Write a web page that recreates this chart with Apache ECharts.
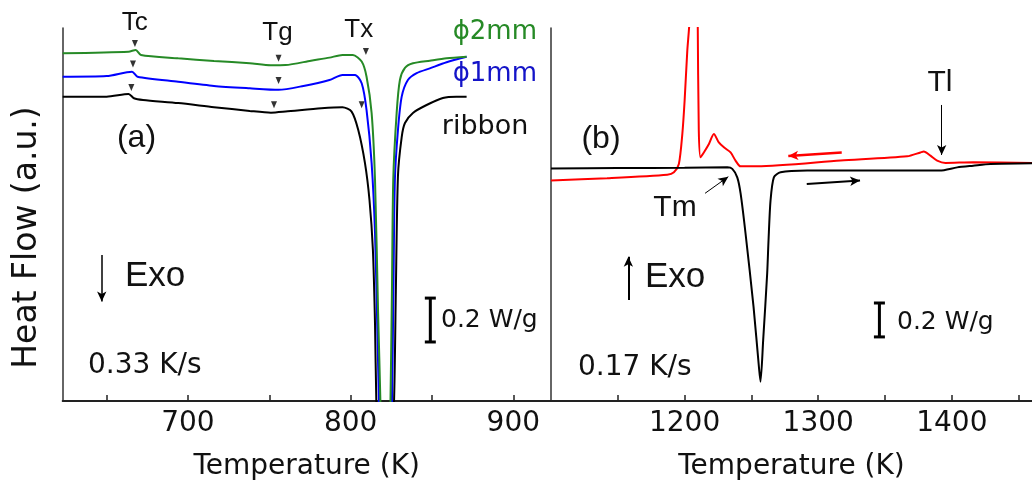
<!DOCTYPE html>
<html>
<head>
<meta charset="utf-8">
<script src="https://cdn.jsdelivr.net/npm/echarts@6/dist/echarts.min.js"></script>
<style>
html,body{margin:0;padding:0;background:#ffffff;}
#chart{width:1032px;height:490px;}
</style>
</head>
<body>
<div id="chart"></div>
<script>
/**
 * =====================================================
 * DSC traces  (a) heating 0.33 K/s   (b) heating / cooling 0.17 K/s
 * values : [temperature K , heat flow W/g + offset]
 * =====================================================
 */

// panel (a)
const ribbonCurve=[
    [623,1.387],[650,1.387],[663.5,1.399],[666.8,1.380],[672.4,1.372],[694,1.358],
    [716,1.339],[738,1.322],[751,1.314],[760,1.319],[782,1.334],[795,1.339],
    [800.6,1.319],[804.7,1.235],[808.8,1.085],[811.6,0.916],[813.7,0.688],[815,0.35],
    [815.8,0],[821,-1.2],[826.7,0],[827.8,0.5],[829.1,1.026],[831.4,1.203],
    [833.4,1.267],[838.3,1.313],[846.7,1.349],[856.7,1.381],[865,1.387],[871.3,1.387]
];

const phi1Curve=[
    [623,1.478],[650,1.481],[665.6,1.501],[669,1.478],[694,1.455],[716,1.436],
    [738,1.425],[755.7,1.418],[771,1.436],[787,1.463],[795,1.486],[802.7,1.486],
    [806.8,1.448],[809.8,1.326],[812.9,1.085],[815,0.766],[816.5,0.3],[817.4,0],
    [821.5,-1.2],[825.4,0],[826.3,0.5],[827.2,1.007],[829.1,1.235],[831.4,1.387],
    [835.2,1.463],[840.6,1.494],[848.7,1.516],[859,1.544],[871.3,1.569]
];

const phi2Curve=[
    [623,1.585],[663.5,1.592],[667.9,1.600],[671.1,1.577],[694,1.562],[716,1.550],
    [738,1.539],[751,1.530],[760,1.531],[775.6,1.551],[787,1.565],[795,1.577],
    [801.4,1.577],[806.8,1.547],[809.8,1.478],[812.9,1.313],[815,1.007],[816.9,0.4],
    [818.3,0],[821.5,-1.2],[824.5,0],[825.4,0.5],[826.2,1.007],[828.3,1.313],
    [830.3,1.463],[833.4,1.518],[838.3,1.539],[848.7,1.551],[859,1.562],[871.3,1.569]
];

// Tc, Tg, Tx marks (green, blue, black)
const transitionMarks=[
    [667.4,1.629],[666.2,1.536],[665.2,1.429],
    [755.7,1.562],[755.7,1.461],[752.9,1.350],
    [809.4,1.593],[806.8,1.350]
];

const scaleBarA=[[849,0.269],[849,0.469]];

// panel (b)
const heatingCurve=[
    [1100,1.372],[1150,1.374],[1200,1.376],[1232,1.378],[1235.7,1.369],[1239.4,1.319],
    [1241.9,1.224],[1245.6,0.988],[1251.6,0.555],[1255.6,0.202],[1256.8,0.114],
    [1258.8,0.359],[1261.8,0.753],[1262.8,0.947],[1264.3,1.182],[1266.8,1.319],
    [1271.8,1.349],[1291.7,1.359],[1341,1.359],[1391,1.359],[1404,1.378],
    [1416,1.388],[1429,1.398],[1460,1.402]
];

const coolingCurve=[
    [1100,1.300],[1142,1.314],[1187,1.335],[1192,1.349],[1195.7,1.398],[1198.3,1.576],
    [1200,1.771],[1202,2.065],[1203.7,2.25],[1206,3.2],[1208.5,3.2],[1209.8,2.25],
    [1210.6,1.6],[1211.9,1.437],[1214.4,1.466],[1218.2,1.516],[1221.9,1.575],
    [1225.6,1.525],[1229.4,1.496],[1234.4,1.466],[1238.1,1.418],[1241.9,1.384],
    [1254.4,1.384],[1316.7,1.418],[1366.6,1.443],[1376.5,1.466],[1379,1.472],
    [1384,1.447],[1389,1.418],[1395.2,1.404],[1416,1.408],[1460,1.404]
];

const scaleBarB=[[1345.8,0.378],[1345.8,0.578]];

// ticks
const tickValuesA=[650,700,750,800,850,900];
const labelValuesA=[700,800,900];
const tickValuesB=[1150,1200,1250,1300,1350,1400,1450];
const labelValuesB=[1200,1300,1400];

// arrows [from , to]
const exoArrowA=[[647,0.665],[647,0.453]];
const exoArrowB=[[1157.9,0.596],[1157.9,0.851]];
const tlArrow=[[1392.4,1.746],[1392.4,1.451]];
const tmArrow=[[1215.3,1.225],[1232.7,1.323]];
const coolArrow=[[1317.6,1.465],[1277.6,1.445]];
const heatArrow=[[1291.4,1.280],[1331.3,1.300]];

const SANS="DejaVu Sans";
const ARIAL="Liberation Sans";
const GREEN="#268a26";
const BLUE="#0000ff";

let chart=echarts.init(document.getElementById("chart"));

function xAxisOf(gridIndex,min,max,ticks,labels){
    return {
        gridIndex,
        type:"value",
        min,
        max,
        axisLine:{show:true,onZero:false,lineStyle:{color:"#222",width:2}},
        axisTick:{show:true,inside:true,length:6,customValues:ticks,lineStyle:{color:"#222",width:1.5}},
        axisLabel:{
            customValues:labels,
            formatter:v=>String(v),
            fontFamily:SANS,
            fontSize:28,
            color:"#111",
            margin:9
        },
        splitLine:{show:false},
        name:"Temperature (K)",
        nameLocation:"middle",
        nameGap:52,
        nameTextStyle:{fontFamily:SANS,fontSize:28,color:"#111"}
    };
}

function yAxisOf(gridIndex,max){
    return {
        gridIndex,
        type:"value",
        min:0,
        max,
        axisLine:{show:true,onZero:false,lineStyle:{color:"#333",width:1.5}},
        axisTick:{show:false},
        axisLabel:{show:false},
        splitLine:{show:false}
    };
}

function curve(name,data,color,axis,extra){
    return Object.assign({
        name,
        type:"line",
        xAxisIndex:axis,
        yAxisIndex:axis,
        data,
        showSymbol:false,
        smooth:0.25,
        clip:true,
        lineStyle:{color,width:2},
        itemStyle:{color},
        silent:true
    },extra||{});
}

function arrows(list,color,width){
    return {
        silent:true,
        symbol:["none","arrow"],
        symbolSize:[7,10],
        label:{show:false},
        emphasis:{disabled:true},
        lineStyle:{type:"solid",color,width},
        data:list.map(a=>[
            {coord:a[0],lineStyle:{color,width}},
            {coord:a[1]}
        ])
    };
}

function scaleBar(data,axis){
    return {
        type:"line",
        xAxisIndex:axis,
        yAxisIndex:axis,
        data,
        symbol:"rect",
        symbolSize:[11,3],
        showSymbol:true,
        lineStyle:{color:"#000",width:3},
        itemStyle:{color:"#000"},
        silent:true
    };
}

function text(t,x,y,family,size,align,color){
    return {
        type:"text",
        x,
        y,
        silent:true,
        style:{
            text:t,
            fontFamily:family,
            fontSize:size,
            fill:color||"#111",
            align:align||"center",
            verticalAlign:"middle"
        }
    };
}

chart.setOption({
    animation:false,
    backgroundColor:"#ffffff",
    grid:[
        {left:62.7,top:28,width:488,height:373},
        {left:551,top:28,right:0,height:373}
    ],
    xAxis:[
        xAxisOf(0,623,923,tickValuesA,labelValuesA),
        xAxisOf(1,1100,1460,tickValuesB,labelValuesB)
    ],
    yAxis:[
        yAxisOf(0,1.7),
        yAxisOf(1,2.2)
    ],
    series:[
        curve("ribbon",ribbonCurve,"#000",0,{markLine:arrows([exoArrowA],"#000",1.5)}),
        curve("phi1",phi1Curve,BLUE,0),
        curve("phi2",phi2Curve,GREEN,0),
        {
            type:"scatter",
            xAxisIndex:0,
            yAxisIndex:0,
            data:transitionMarks,
            symbol:"triangle",
            symbolRotate:180,
            symbolSize:[6,7],
            itemStyle:{color:"#000"},
            silent:true
        },
        scaleBar(scaleBarA,0),
        curve("cooling",coolingCurve,"#ff0000",1,{markLine:arrows([coolArrow],"#ff0000",2.5)}),
        curve("heating",heatingCurve,"#000",1,{markLine:arrows([heatArrow,exoArrowB],"#000",2)}),
        curve("marks",[],"#000",1,{markLine:arrows([tlArrow,tmArrow],"#000",1)}),
        scaleBar(scaleBarB,1)
    ],
    graphic:[
        {
            type:"text",
            x:27.5,
            y:237.5,
            rotation:Math.PI/2,
            silent:true,
            style:{text:"Heat Flow (a.u.)",fontFamily:SANS,fontSize:33,fill:"#111",align:"center",verticalAlign:"middle"}
        },
        text("(a)",136.5,138,ARIAL,32),
        text("Tc",134.8,23,ARIAL,26),
        text("Tg",277.5,33,ARIAL,26),
        text("Tx",358.8,29.5,ARIAL,26),
        text("\u03d52mm",537,32,SANS,26,"right",GREEN),
        text("\u03d51mm",537,74,SANS,26,"right","#1414c8"),
        text("ribbon",528.3,127,SANS,27,"right"),
        text("Exo",125,276,ARIAL,35,"left"),
        text("0.33 K/s",88,366,SANS,28,"left"),
        text("0.2 W/g",441,320,SANS,25,"left"),
        text("(b)",601,139,ARIAL,32),
        text("Tm",675,208,ARIAL,30),
        text("Tl",940,83,ARIAL,30),
        text("Exo",645,277,ARIAL,35,"left"),
        text("0.17 K/s",578,368,SANS,28,"left"),
        text("0.2 W/g",897,322,SANS,25,"left")
    ]
});

window.addEventListener("resize",()=>{
    chart.resize();
});
</script>
</body>
</html>
